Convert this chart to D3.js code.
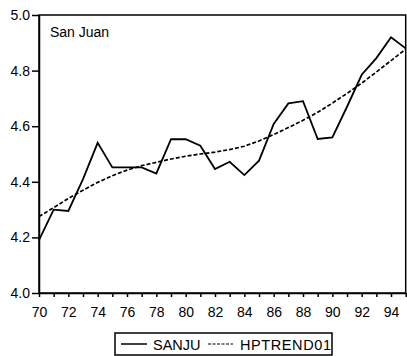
<!DOCTYPE html>
<html lang="en">
<head>
  <meta charset="UTF-8">
  <style>
    body { margin: 0; background: #fff; }
    svg { font-family: Arial, "Liberation Sans", sans-serif; }
  </style>
</head>
<body>
  <svg class="chart"></svg>
  <script src="https://cdnjs.cloudflare.com/ajax/libs/d3/7.8.5/d3.min.js"></script>
  <script>
    const years = d3.range(70, 96)
    const sanju = [4.19, 4.30, 4.295, 4.41, 4.54, 4.452, 4.452, 4.452, 4.43, 4.553,
                   4.553, 4.53, 4.446, 4.472, 4.424, 4.476, 4.608, 4.682, 4.69, 4.554,
                   4.56, 4.67, 4.785, 4.845, 4.92, 4.88]
    const hptrend = [4.275, 4.307, 4.34, 4.37, 4.398, 4.422, 4.442, 4.458, 4.47, 4.482,
                     4.492, 4.50, 4.507, 4.516, 4.528, 4.547, 4.57, 4.595, 4.621, 4.65,
                     4.683, 4.718, 4.755, 4.795, 4.836, 4.877]
    const yTicks = [4.0, 4.2, 4.4, 4.6, 4.8, 5.0]
    const xLabels = d3.range(70, 95, 2)
    const legendNames = ['SANJU', 'HPTREND01']

    const chart = { width: 407, height: 356 }
    const plot = { left: 39, right: 405.7, top: 15, bottom: 293 }

    const x = d3.scaleLinear().domain([70, 95]).range([plot.left, plot.right])
    const y = d3.scaleLinear().domain([4.0, 5.0]).range([plot.bottom, plot.top])

    const svg = d3.select('.chart')
      .attr('width', chart.width)
      .attr('height', chart.height)

    // frame
    svg.append('rect')
      .attr('x', plot.left)
      .attr('y', plot.top)
      .attr('width', plot.right - plot.left)
      .attr('height', plot.bottom - plot.top)
      .attr('fill', 'none')
      .attr('stroke', '#000')
      .attr('stroke-width', 1.5)

    // y axis
    const yAxis = svg.append('g')
      .attr('transform', `translate(${plot.left},0)`)
      .call(d3.axisLeft(y).tickValues(yTicks).tickFormat(d3.format('.1f'))
        .tickSizeInner(7).tickSizeOuter(0).tickPadding(2))
    yAxis.select('.domain').attr('stroke-width', 1.5)
    yAxis.selectAll('.tick line').attr('stroke-width', 1.5)
    yAxis.selectAll('text').attr('font-size', 14).attr('fill', '#000')
      .attr('font-family', 'Arial, "Liberation Sans", sans-serif')

    // x axis, tick every year, label every second
    const xAxis = svg.append('g')
      .attr('transform', `translate(0,${plot.bottom})`)
      .call(d3.axisBottom(x).tickValues(years)
        .tickFormat(d => xLabels.includes(d) ? d : '')
        .tickSizeInner(4).tickSizeOuter(0).tickPadding(10))
    xAxis.select('.domain').attr('stroke-width', 1.5)
    xAxis.selectAll('.tick line').attr('stroke-width', 1.5)
    xAxis.selectAll('text').attr('font-size', 14).attr('fill', '#000')
      .attr('font-family', 'Arial, "Liberation Sans", sans-serif')

    // title inside plot
    svg.append('text')
      .attr('x', 50)
      .attr('y', 37)
      .attr('font-size', 14)
      .text('San Juan')

    const line = d3.line()
      .x((d, i) => x(years[i]))
      .y(d => y(d))

    svg.append('path')
      .datum(hptrend)
      .attr('d', line)
      .attr('fill', 'none')
      .attr('stroke', '#000')
      .attr('stroke-width', 1.7)
      .attr('stroke-dasharray', '4,2')

    svg.append('path')
      .datum(sanju)
      .attr('d', line)
      .attr('fill', 'none')
      .attr('stroke', '#000')
      .attr('stroke-width', 1.8)

    // legend
    const lg = svg.append('g')
    lg.append('rect')
      .attr('x', 115)
      .attr('y', 333)
      .attr('width', 217)
      .attr('height', 22)
      .attr('fill', '#fff')
      .attr('stroke', '#000')
      .attr('stroke-width', 1.5)
    lg.append('line')
      .attr('x1', 121).attr('x2', 147).attr('y1', 344).attr('y2', 344)
      .attr('stroke', '#000').attr('stroke-width', 1.5)
    lg.append('text')
      .attr('x', 153).attr('y', 349.5)
      .attr('font-size', 14.5)
      .text(legendNames[0])
    lg.append('line')
      .attr('x1', 208).attr('x2', 233).attr('y1', 344).attr('y2', 344)
      .attr('stroke', '#000').attr('stroke-width', 1.2)
      .attr('stroke-dasharray', '3,1.5')
    lg.append('text')
      .attr('x', 240).attr('y', 349.5)
      .attr('font-size', 14.5)
      .attr('textLength', 91)
      .text(legendNames[1])
  </script>
</body>
</html>
